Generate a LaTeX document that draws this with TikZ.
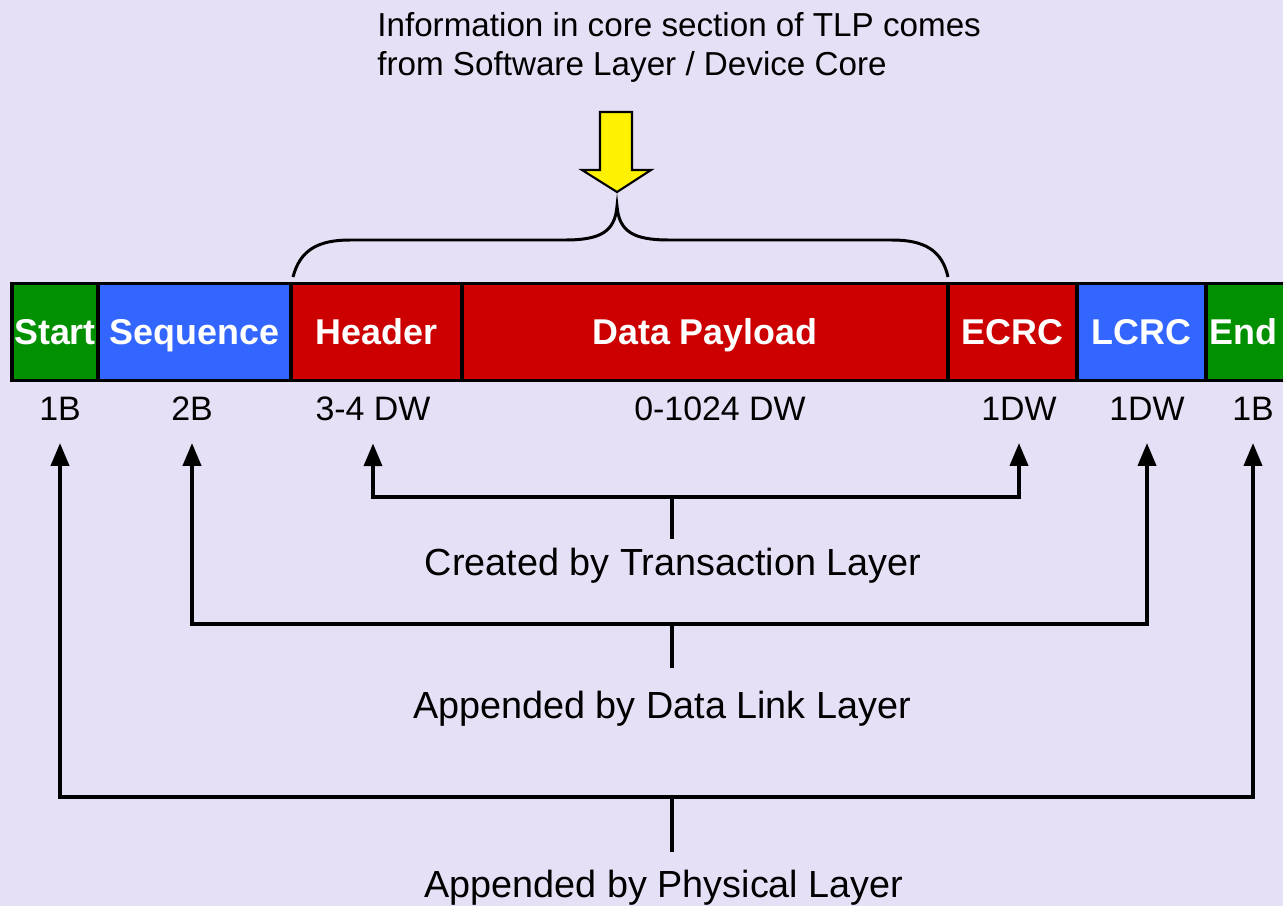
\documentclass[tikz,border=0pt]{standalone}
\usepackage{fontspec}
\setmainfont{Liberation Sans}
\usetikzlibrary{positioning,arrows}

\definecolor{bgcol}{HTML}{E6E0F6}
\definecolor{framegreen}{HTML}{009000}
\definecolor{linkblue}{HTML}{3366FF}
\definecolor{tlpred}{HTML}{CC0000}

\tikzset{
  cell/.style={draw,line width=2pt,outer sep=0pt,inner sep=0pt,
    minimum height=1.94cm,text=white,text height=14.6pt,text depth=0pt,
    font=\fontsize{20.4}{24}\selectfont\bfseries},
  sizelbl/.style={anchor=base,inner sep=0pt,font=\fontsize{19.3}{23}\selectfont},
  layernote/.style={anchor=base,inner sep=0pt,font=\fontsize{21.5}{25}\selectfont},
  layerline/.style={line width=2pt,>=triangle 45}
}

\begin{document}
\begin{tikzpicture}[x=0.02cm,y=-0.02cm]
  \fill[bgcol] (0,0) rectangle (1283,906);
  \useasboundingbox (0,0) rectangle (1283,906);

  % text on top and the yellow arrow
  \node[anchor=north west,inner sep=0pt,align=left,
    font=\fontsize{18.9}{22.1}\selectfont] (info) at (377,12)
    {Information in core section of TLP comes\\from Software Layer / Device Core};
  \draw[line width=1.2pt,fill=yellow,line join=miter]
    (600,112) -- (632,112) -- (632,170) -- (651,170) -- (617,192)
    -- (582,170) -- (600,170) -- cycle;

  % brace over the core section
  \draw[line width=1.7pt] (293,277) .. controls (300,250) and (318,240) .. (350,240)
    -- (565,240) .. controls (600,240) and (615,232) .. (617,206)
    .. controls (619,232) and (634,240) .. (669,240)
    -- (892,240) .. controls (924,240) and (942,250) .. (948,277);

  % the packet
  \node[cell,fill=framegreen,minimum width=1.72cm,anchor=west] (start) at (12,332) {Start};
  \node[cell,fill=linkblue,minimum width=3.86cm,right=0pt of start] (seq) {Sequence};
  \node[cell,fill=tlpred,minimum width=3.42cm,right=0pt of seq] (hdr) {Header};
  \node[cell,fill=tlpred,minimum width=9.72cm,right=0pt of hdr] (payload) {Data Payload};
  \node[cell,fill=tlpred,minimum width=2.58cm,right=0pt of payload] (ecrc) {ECRC};
  \node[cell,fill=linkblue,minimum width=2.58cm,right=0pt of ecrc] (lcrc) {LCRC};
  \node[cell,fill=framegreen,minimum width=2.6cm,right=0pt of lcrc,
    text width=2.45cm,align=left] (finish) {End};

  % sizes
  \node[sizelbl] (startsize) at (60,420) {1B};
  \node[sizelbl] (seqsize) at (192,420) {2B};
  \node[sizelbl] (hdrsize) at (373,420) {3-4 DW};
  \node[sizelbl] (payloadsize) at (720,420) {0-1024 DW};
  \node[sizelbl] (ecrcsize) at (1019,420) {1DW};
  \node[sizelbl] (lcrcsize) at (1147,420) {1DW};
  \node[sizelbl] (finishsize) at (1253,420) {1B};

  % layers
  \coordinate (tlbar) at (672,497);
  \coordinate (dlbar) at (672,624);
  \coordinate (plbar) at (672,797);
  \node[layernote] (tlnote) at (673,575) {Created by Transaction Layer};
  \node[layernote] (dlnote) at (662,718) {Appended by Data Link Layer};
  \node[layernote] (plnote) at (664,897) {Appended by Physical Layer};

  \draw[layerline,<->,shorten <=0.46cm,shorten >=0.46cm]
    (hdrsize) |- (tlbar) -| (ecrcsize);
  \draw[layerline,<->,shorten <=0.46cm,shorten >=0.46cm]
    (seqsize) |- (dlbar) -| (lcrcsize);
  \draw[layerline,<->,shorten <=0.46cm,shorten >=0.46cm]
    (startsize) |- (plbar) -| (finishsize);
  \draw[layerline] (tlbar) edge[shorten >=0.16cm] (tlbar |- tlnote.north)
    (dlbar) edge[shorten >=0.44cm] (dlbar |- dlnote.north)
    (plbar) edge[shorten >=0.34cm] (plbar |- plnote.north);
\end{tikzpicture}
\end{document}
